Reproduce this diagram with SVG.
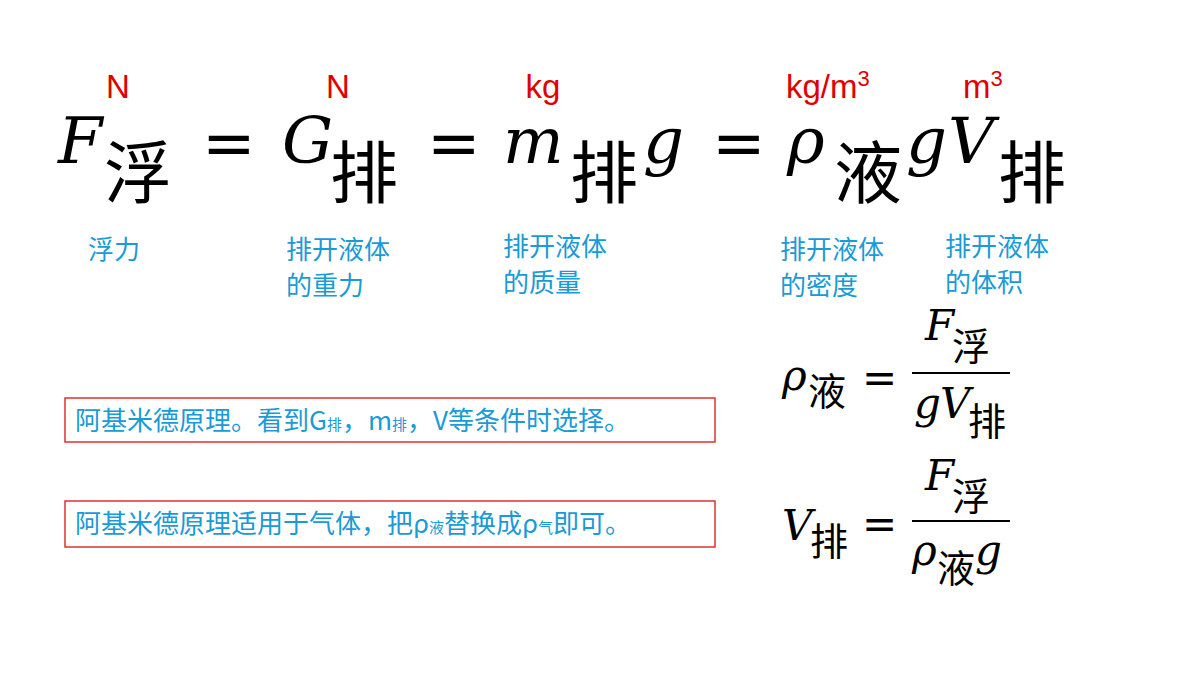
<svg xmlns="http://www.w3.org/2000/svg" width="1200" height="675" viewBox="0 0 1200 675">
<style>
.i{font-family:"DejaVu Serif","Liberation Serif",serif;font-style:italic;fill:#000}
.c{font-family:"Noto Sans CJK SC","Noto Sans",sans-serif;fill:#000}
.o{font-family:"DejaVu Sans",sans-serif;fill:#000}
.u{font-family:"Liberation Sans","Noto Sans",sans-serif;fill:#e00000;font-size:33px}
.b{font-family:"Noto Sans CJK SC",sans-serif;fill:#1a9ad6;font-size:26px}
.bx{fill:none;stroke:#e03030;stroke-width:1.5}
</style>
<rect width="1200" height="675" fill="#fff"/>
<g id="main" font-size="64">
<text class="i" x="58" y="163">F</text><text class="c" x="104" y="198" font-size="68">浮</text>
<text class="o" x="202" y="165">=</text>
<text class="i" x="282" y="163">G</text><text class="c" x="330" y="198" font-size="68">排</text>
<text class="o" x="427" y="165">=</text>
<text class="i" x="503" y="163">m</text><text class="c" x="570" y="198" font-size="68">排</text><text class="i" x="643" y="163">g</text>
<text class="o" x="712" y="165">=</text>
<text class="i" x="787" y="163">ρ</text><text class="c" x="834" y="198" font-size="68">液</text><text class="i" x="906" y="163">g</text><text class="i" x="948" y="163">V</text><text class="c" x="998" y="198" font-size="68">排</text>
</g>
<g id="units">
<text class="u" x="118" y="98" text-anchor="middle">N</text>
<text class="u" x="338" y="98" text-anchor="middle">N</text>
<text class="u" x="543" y="98" text-anchor="middle">kg</text>
<text class="u" x="786" y="98">kg/m<tspan font-size="22" dy="-12">3</tspan></text>
<text class="u" x="963" y="98">m<tspan font-size="22" dy="-12">3</tspan></text>
</g>
<g id="labels">
<text class="b" x="88" y="259">浮力</text>
<text class="b" x="286" y="259">排开液体</text><text class="b" x="286" y="295">的重力</text>
<text class="b" x="503" y="256">排开液体</text><text class="b" x="503" y="292">的质量</text>
<text class="b" x="780" y="259">排开液体</text><text class="b" x="780" y="295">的密度</text>
<text class="b" x="945" y="256">排开液体</text><text class="b" x="945" y="292">的体积</text>
</g>
<g id="box1"><rect class="bx" x="65" y="398" width="650" height="44"/>
<text class="b" x="75" y="430" font-size="23">阿基米德原理。看到G<tspan font-size="15">排</tspan>，m<tspan font-size="15">排</tspan>，V等条件时选择。</text></g>
<g id="box2"><rect class="bx" x="65" y="501" width="650" height="46"/>
<text class="b" x="75" y="533" font-size="23">阿基米德原理适用于气体，把ρ<tspan font-size="15">液</tspan>替换成ρ<tspan font-size="15">气</tspan>即可。</text></g>
<g id="f1" font-size="42">
<text class="i" x="782" y="390">ρ</text><text class="c" x="808" y="405" font-size="38">液</text>
<text class="o" x="862" y="392">=</text>
<line x1="912" y1="373" x2="1010" y2="373" stroke="#000" stroke-width="2"/>
<text class="i" x="925" y="340">F</text><text class="c" x="952" y="360" font-size="38">浮</text>
<text class="i" x="914" y="418">g</text><text class="i" x="940" y="418">V</text><text class="c" x="968" y="435" font-size="38">排</text>
</g>
<g id="f2" font-size="42">
<text class="i" x="782" y="540">V</text><text class="c" x="810" y="555" font-size="38">排</text>
<text class="o" x="862" y="538">=</text>
<line x1="912" y1="521" x2="1010" y2="521" stroke="#000" stroke-width="2"/>
<text class="i" x="925" y="490">F</text><text class="c" x="952" y="510" font-size="38">浮</text>
<text class="i" x="912" y="565">ρ</text><text class="c" x="937" y="582" font-size="38">液</text><text class="i" x="975" y="565">g</text>
</g>
</svg>
